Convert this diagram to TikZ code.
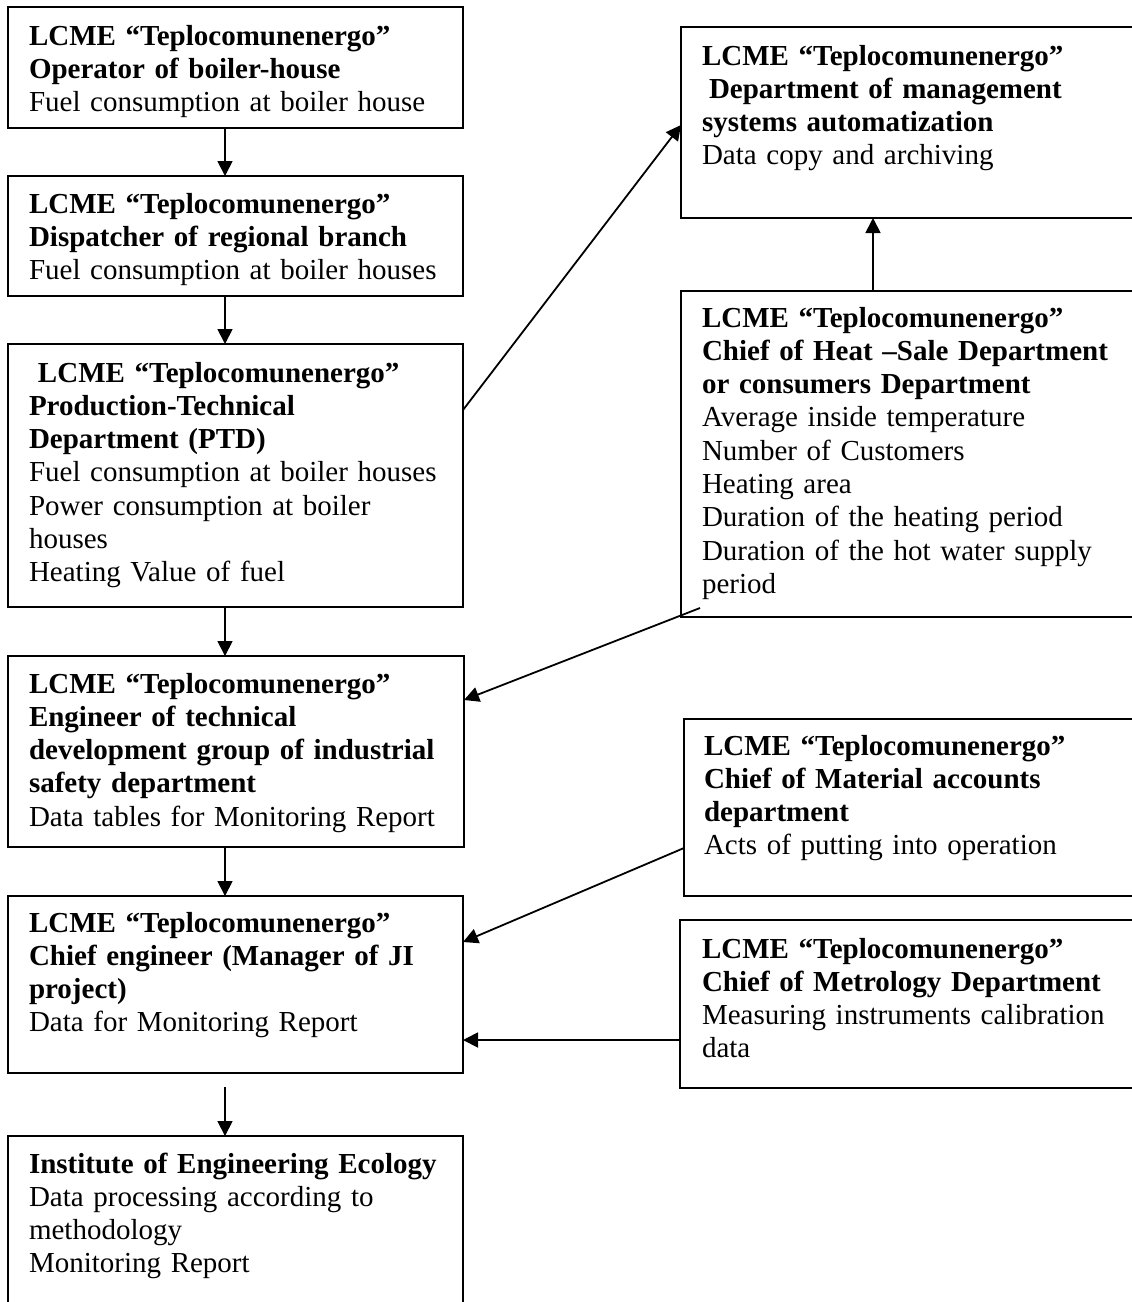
\documentclass[tikz,border=0pt]{standalone}
\usepackage{fontspec}
\setmainfont{Liberation Serif}
\usetikzlibrary{arrows.meta}
\begin{document}
\begin{tikzpicture}[x=1pt,y=-1pt,
  box/.style={draw, line width=1.8pt, inner sep=0pt, outer sep=0pt, anchor=north west},
  txt/.style={inner sep=0pt, outer sep=0pt, align=left, text width=620pt, anchor=base west,
    font=\fontsize{29}{33.3}\selectfont},
  arr/.style={line width=1.8pt, -{Triangle[length=15pt,width=15pt]}}]
\useasboundingbox (0,0) rectangle (1132,1302);
\fill[white] (0,0) rectangle (1132,1302);
\clip (0,0) rectangle (1132,1302);
% boxes
\node[box, minimum width=455pt, minimum height=121pt] (A) at (8,7) {};
\node[box, minimum width=455pt, minimum height=120pt] (B) at (8,176) {};
\node[box, minimum width=455pt, minimum height=263pt] (C) at (8,344) {};
\node[box, minimum width=456pt, minimum height=191pt] (D) at (8,656) {};
\node[box, minimum width=455pt, minimum height=177pt] (E) at (8,896) {};
\node[box, minimum width=455pt, minimum height=200pt] (F) at (8,1136) {};
\node[box, minimum width=470pt, minimum height=191pt] (G) at (681,27) {};
\node[box, minimum width=470pt, minimum height=326pt] (H) at (681,291) {};
\node[box, minimum width=470pt, minimum height=177pt] (I) at (684,719) {};
\node[box, minimum width=470pt, minimum height=168pt] (J) at (680,920) {};
% texts
\node[txt] (At) at ([shift={(21,38)}]A.north west) {\textbf{LCME “Teplocomunenergo”}\\\textbf{Operator of boiler-house}\\Fuel consumption at boiler house};
\node[txt] (Bt) at ([shift={(21,37)}]B.north west) {\textbf{LCME “Teplocomunenergo”}\\\textbf{Dispatcher of regional branch}\\Fuel consumption at boiler houses};
\node[txt] (Ct) at ([shift={(21,38)}]C.north west) {\hspace*{9pt}\textbf{LCME “Teplocomunenergo”}\\\textbf{Production-Technical}\\\textbf{Department (PTD)}\\Fuel consumption at boiler houses\\Power consumption at boiler\\houses\\Heating Value of fuel};
\node[txt] (Dt) at ([shift={(21,37)}]D.north west) {\textbf{LCME “Teplocomunenergo”}\\\textbf{Engineer of technical}\\\textbf{development group of industrial}\\\textbf{safety department}\\Data tables for Monitoring Report};
\node[txt] (Et) at ([shift={(21,36)}]E.north west) {\textbf{LCME “Teplocomunenergo”}\\\textbf{Chief engineer (Manager of JI}\\\textbf{project)}\\Data for Monitoring Report};
\node[txt] (Ft) at ([shift={(21,37)}]F.north west) {\textbf{Institute of Engineering Ecology}\\Data processing according to\\methodology\\Monitoring Report};
\node[txt] (Gt) at ([shift={(21,38)}]G.north west) {\textbf{LCME “Teplocomunenergo”}\\\hspace*{7pt}\textbf{Department of management}\\\textbf{systems automatization}\\Data copy and archiving};
\node[txt] (Ht) at ([shift={(21,36)}]H.north west) {\textbf{LCME “Teplocomunenergo”}\\\textbf{Chief of Heat –Sale Department}\\\textbf{or consumers Department}\\Average inside temperature\\Number of Customers\\Heating area\\Duration of the heating period\\Duration of the hot water supply\\period};
\node[txt] (It) at ([shift={(20,36)}]I.north west) {\textbf{LCME “Teplocomunenergo”}\\\textbf{Chief of Material accounts}\\\textbf{department}\\Acts of putting into operation};
\node[txt] (Jt) at ([shift={(22,38)}]J.north west) {\textbf{LCME “Teplocomunenergo”}\\\textbf{Chief of Metrology Department}\\Measuring instruments calibration\\data};
% connectors
\draw[arr] ([xshift=217pt]A.south west) -- ([xshift=217pt]B.north west);
\draw[arr] ([xshift=217pt]B.south west) -- ([xshift=217pt]C.north west);
\draw[arr] ([xshift=217pt]C.south west) -- ([xshift=217pt]D.north west);
\draw[arr] ([xshift=217pt]D.south west) -- ([xshift=217pt]E.north west);
\draw[arr] ([shift={(217,14)}]E.south west) -- ([xshift=217pt]F.north west);
\draw[arr] ([shift={(0,66)}]C.north east) -- ([shift={(0,98)}]G.north west);
\draw[arr] ([xshift=192pt]H.north west) -- ([xshift=192pt]G.south west);
\draw[arr] ([shift={(19,-9)}]H.south west) -- ([shift={(0,44)}]D.north east);
\draw[arr] ([shift={(0,129)}]I.north west) -- ([shift={(0,46)}]E.north east);
\draw[arr] ([shift={(0,120)}]J.north west) -- ([shift={(0,144)}]E.north east);
\end{tikzpicture}
\end{document}
